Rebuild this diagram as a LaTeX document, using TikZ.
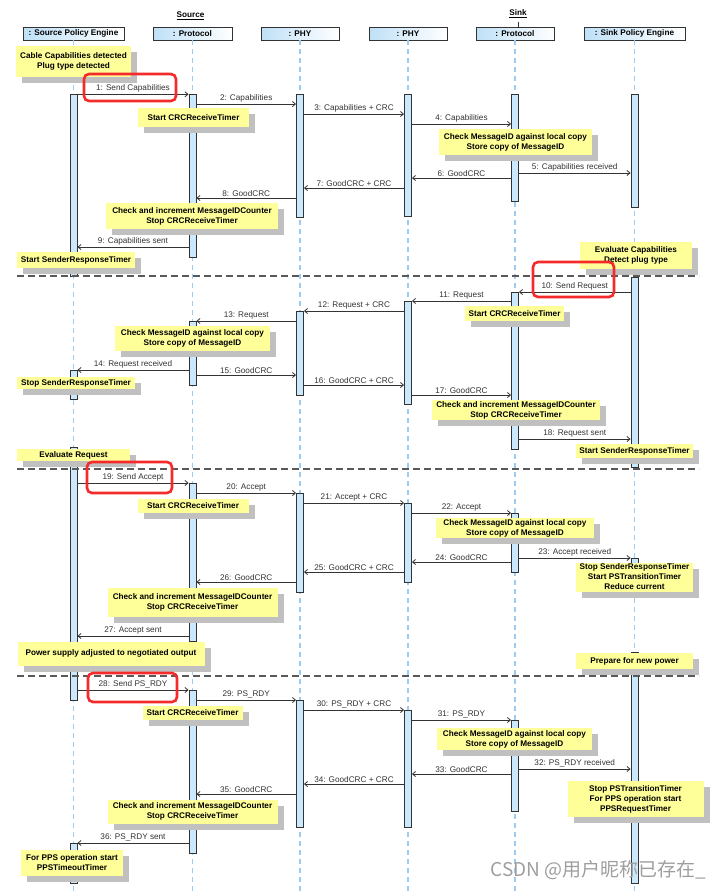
\documentclass[tikz,border=0pt]{standalone}
\usepackage{fontspec}
\setmainfont{Liberation Sans}
\newfontfamily\cjkfont{Noto Sans CJK SC}
\usetikzlibrary{arrows.meta,shadows}
\definecolor{notefill}{HTML}{FFFF99}
\definecolor{shadowgray}{HTML}{C0C0C0}
\definecolor{barfill}{HTML}{CCE8FC}
\definecolor{headfill}{HTML}{BFE0F7}
\definecolor{lifeblue}{HTML}{9CCBF3}
\definecolor{linegray}{HTML}{333333}
\definecolor{markred}{HTML}{F52A2A}

\begin{document}
\begin{tikzpicture}[x=1pt,y=-1pt,
    font=\fontsize{8.2}{10}\selectfont,
    head/.style={draw=linegray,line width=0.9pt,left color=headfill,right color=white,minimum height=13pt,inner sep=0pt,font=\fontsize{8.2}{10}\selectfont\bfseries},
    life/.style={draw=lifeblue,line width=1.2pt,dash pattern=on 5pt off 4pt},
    bar/.style={draw=linegray,fill=barfill,line width=0.9pt,minimum width=7pt,inner sep=0pt,anchor=north},
    msg/.style={draw=linegray,line width=0.8pt,-{Straight Barb[length=3pt,width=5pt]}},
    lbl/.style={above,inner sep=1.5pt,text=linegray},
    note/.style={fill=notefill,inner sep=0pt,align=center,font=\fontsize{8.2}{10}\selectfont\bfseries,
      drop shadow={shadow xshift=6pt,shadow yshift=-6pt,fill=shadowgray,opacity=1}},
    divider/.style={draw=black!65,line width=1.2pt,dash pattern=on 7pt off 4pt},
    redbox/.style={draw=markred,line width=2.6pt,rounded corners=5pt}
  ]
  \useasboundingbox (0,0) rectangle (724,892);

  % groups
  \node[font=\fontsize{8.2}{10}\selectfont\bfseries] (src) at (190.5,16) {\underline{Source}};
  \node[font=\fontsize{8.2}{10}\selectfont\bfseries] (snk) at (518,14) {\underline{Sink}};

  % lifeline heads
  \node[head,minimum width=101pt] (spe) at (73.5,33.5) {: Source Policy Engine};
  \node[head,minimum width=79pt] (spr) at (192.5,33.5) {: Protocol};
  \node[head,minimum width=78pt] (sph) at (300,33.5) {: PHY};
  \node[head,minimum width=78pt] (kph) at (408,33.5) {: PHY};
  \node[head,minimum width=78pt] (kpr) at (515,33.5) {: Protocol};
  \node[head,minimum width=101pt] (kpe) at (634.5,33.5) {: Sink Policy Engine};
  \draw[linegray,line width=0.8pt] (snk.south) -- (snk.south |- kpr.north);

  \foreach \h in {spe,spr,sph,kph,kpr,kpe}
    \draw[life] (\h.south) -- (\h.south |- 0,892);

  % activation bars
  \foreach \n/\x/\ta/\tb in {a1/73.5/94.3/276, a2/73.5/370/399, a3/73.5/447/700, a4/73.5/843/883,
      b1/192.5/94.3/257, b2/192.5/321/385, b3/192.5/483/641, b4/192.5/690/853,
      c1/300/94.3/217, c2/300/311/395, c3/300/493/592, c4/300/700/827,
      d1/408/94.3/216, d2/408/301/404, d3/408/503/582, d4/408/710/827,
      e1/515/94.3/201, e2/515/292/449, e3/515/513/572, e4/515/720/811,
      f1/634.5/94.3/207, f2/634.5/277/467, f3/634.5/558/590, f4/634.5/652/883}
    \node[bar,minimum height=(\tb-\ta)*1pt] (\n) at (\x,\ta) {};

  % phase dividers
  \foreach \ya in {276,469,676}
    \draw[divider] (17,\ya) -- (699,\ya);

  % messages
  \foreach \ya/\from/\to/\txt [count=\i] in {
      94.3/a1.east/b1.west/{1: Send Capabilities},
      104/b1.east/c1.west/{2: Capabilities},
      114/c1.east/d1.west/{3: Capabilities + CRC},
      124/d1.east/e1.west/{4: Capabilities},
      173/e1.east/f1.west/{5: Capabilities received},
      178/e1.west/d1.east/{6: GoodCRC},
      188/d1.west/c1.east/{7: GoodCRC + CRC},
      198/c1.west/b1.east/{8: GoodCRC},
      247/b1.west/a1.east/{9: Capabilities sent},
      292/f2.west/e2.east/{10: Send Request},
      301/e2.west/d2.east/{11: Request},
      311/d2.west/c2.east/{12: Request + CRC},
      321/c2.west/b2.east/{13: Request},
      370/b2.west/a2.east/{14: Request received},
      375/b2.east/c2.west/{15: GoodCRC},
      385/c2.east/d2.west/{16: GoodCRC + CRC},
      395/d2.east/e2.west/{17: GoodCRC},
      439/e2.east/f2.west/{18: Request sent},
      483/a3.east/b3.west/{19: Send Accept},
      493/b3.east/c3.west/{20: Accept},
      503/c3.east/d3.west/{21: Accept + CRC},
      513/d3.east/e3.west/{22: Accept},
      558/e3.east/f3.west/{23: Accept received},
      562/e3.west/d3.east/{24: GoodCRC},
      572/d3.west/c3.east/{25: GoodCRC + CRC},
      582/c3.west/b3.east/{26: GoodCRC},
      636/b3.west/a3.east/{27: Accept sent},
      690/a3.east/b4.west/{28: Send PS\_RDY},
      700/b4.east/c4.west/{29: PS\_RDY},
      710/c4.east/d4.west/{30: PS\_RDY + CRC},
      720/d4.east/e4.west/{31: PS\_RDY},
      769/e4.east/f4.west/{32: PS\_RDY received},
      774/e4.west/d4.east/{33: GoodCRC},
      784/d4.west/c4.east/{34: GoodCRC + CRC},
      794/c4.west/b4.east/{35: GoodCRC},
      843/b4.west/a4.east/{36: PS\_RDY sent}}
    \draw[msg] (\from |- 0,\ya) -- node[lbl] (m\i) {\txt} (\to |- 0,\ya);

  % notes
  \node[note,minimum width=115pt,minimum height=31pt] (n1) at (73.5,61.5) {Cable Capabilities detected\\Plug type detected};
  \node[note,minimum width=111pt,minimum height=19pt] (n2) at (193.5,117.5) {Start CRCReceiveTimer};
  \node[note,minimum width=153pt,minimum height=26pt] (n3) at (515.5,142) {Check MessageID against local copy\\Store copy of MessageID};
  \node[note,minimum width=172pt,minimum height=26pt] (n4) at (192,216) {Check and increment MessageIDCounter\\Stop CRCReceiveTimer};
  \node[note,minimum width=118pt,minimum height=16pt] (n5) at (76,260) {Start SenderResponseTimer};
  \node[note,minimum width=112pt,minimum height=27pt] (n6) at (636,255.5) {Evaluate Capabilities\\Detect plug type};
  \node[note,minimum width=99pt,minimum height=15pt] (n7) at (514.5,313.5) {Start CRCReceiveTimer};
  \node[note,minimum width=155pt,minimum height=25pt] (n8) at (192.5,338.5) {Check MessageID against local copy\\Store copy of MessageID};
  \node[note,minimum width=118pt,minimum height=12pt] (n9) at (76,383) {Stop SenderResponseTimer};
  \node[note,minimum width=168pt,minimum height=20pt] (n10) at (516,410) {Check and increment MessageIDCounter\\Stop CRCReceiveTimer};
  \node[note,minimum width=117pt,minimum height=14pt] (n11) at (634.5,451) {Start SenderResponseTimer};
  \node[note,minimum width=113pt,minimum height=12pt] (n12) at (73.5,455) {Evaluate Request};
  \node[note,minimum width=111pt,minimum height=13.5pt] (n13) at (193,506) {Start CRCReceiveTimer};
  \node[note,minimum width=158pt,minimum height=20.5pt] (n14) at (515,528) {Check MessageID against local copy\\Store copy of MessageID};
  \node[note,minimum width=117pt,minimum height=29pt] (n15) at (634.5,577) {Stop SenderResponseTimer\\Start PSTransitionTimer\\Reduce current};
  \node[note,minimum width=170pt,minimum height=29pt] (n16) at (192.5,602) {Check and increment MessageIDCounter\\Stop CRCReceiveTimer};
  \node[note,minimum width=187pt,minimum height=24pt] (n17) at (111,653.5) {Power supply adjusted to negotiated output};
  \node[note,minimum width=117pt,minimum height=16pt] (n18) at (634.5,661) {Prepare for new power};
  \node[note,minimum width=100pt,minimum height=14pt] (n19) at (192.5,713) {Start CRCReceiveTimer};
  \node[note,minimum width=155pt,minimum height=22pt] (n20) at (514.5,739) {Check MessageID against local copy\\Store copy of MessageID};
  \node[note,minimum width=136pt,minimum height=36.5pt] (n21) at (635.5,799) {Stop PSTransitionTimer\\For PPS operation start\\PPSRequestTimer};
  \node[note,minimum width=170pt,minimum height=24pt] (n22) at (192.5,811.5) {Check and increment MessageIDCounter\\Stop CRCReceiveTimer};
  \node[note,minimum width=102pt,minimum height=26pt] (n23) at (72,863) {For PPS operation start\\PPSTimeoutTimer};

  % highlights
  \draw[redbox] (84,74) rectangle (176,101);
  \draw[redbox] (533,262) rectangle (614,297);
  \draw[redbox] (87,462) rectangle (172,493);
  \draw[redbox] (88,673) rectangle (177,702);

  \node[anchor=east,text=black!38,font=\cjkfont\fontsize{19}{19}\selectfont] (wm) at (710,870) {CSDN @用户昵称已存在\_};
\end{tikzpicture}
\end{document}
